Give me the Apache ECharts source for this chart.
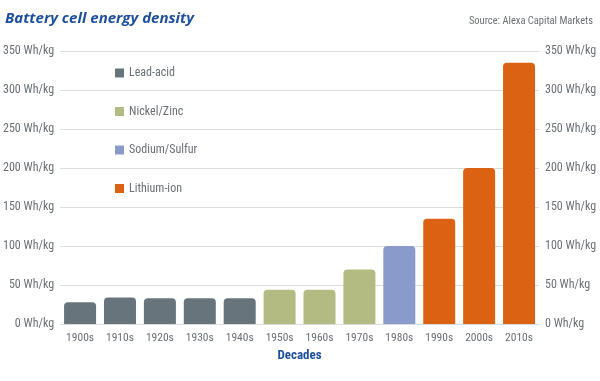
<!DOCTYPE html>
<html><head><meta charset="utf-8">
<script src="https://cdn.jsdelivr.net/npm/echarts@6/dist/echarts.min.js"></script>
<style>html,body{margin:0;padding:0;background:#fff}#c{width:600px;height:381px}</style>
</head><body><div id="c"></div>
<script>
const categories = ['1900s','1910s','1920s','1930s','1940s','1950s','1960s','1970s','1980s','1990s','2000s','2010s'];
const leadAcid    = [28, 34, 33, 33, 33, null, null, null, null, null, null, null];
const nickelZinc  = [null, null, null, null, null, 44, 44, 70, null, null, null, null];
const sodiumSulfur= [null, null, null, null, null, null, null, null, 100, null, null, null];
const lithiumIon  = [null, null, null, null, null, null, null, null, null, 135, 200, 335];
const seriesNames = ['Lead-acid','Nickel/Zinc','Sodium/Sulfur','Lithium-ion'];
const colors = ['#68747b','#b3bb82','#8a9bcb','#dc6213'];
const yTicks = [0,50,100,150,200,250,300,350];

const font = '"Liberation Sans Narrow", "Roboto Condensed", "Open Sans", sans-serif';
const chart = echarts.init(document.getElementById('c'), null, {renderer:'canvas'});
const seriesData = [leadAcid, nickelZinc, sodiumSulfur, lithiumIon];
const yAxisBase = (pos) => ({
  type:'value', position:pos, min:yTicks[0], max:yTicks[yTicks.length-1], interval:50,
  axisLine:{show:false}, axisTick:{show:false},
  splitLine:{show: pos==='left', lineStyle:{color:'#d9dcdf', width:1}},
  axisLabel:{color:'#6b7075', fontFamily:font, fontSize:12, margin:6, formatter: v => v + ' Wh/kg'}
});
chart.setOption({
  animation:false,
  title:[
    {text:'Battery cell energy density', left:0, top:6, textStyle:{color:'#1e4f9e', fontFamily:'"Open Sans", sans-serif', fontStyle:'italic', fontWeight:'bold', fontSize:15}},
    {text:'Source: Alexa Capital Markets', right:2, top:11, textStyle:{color:'#6b7075', fontFamily:font, fontWeight:'normal', fontSize:10.5}}
  ],
  legend:{
    orient:'vertical', left:110, top:62, itemWidth:9, itemHeight:9, itemGap:26.5, icon:'rect',
    textStyle:{color:'#6b7075', fontFamily:font, fontSize:12},
    data: seriesNames
  },
  grid:{left:58, right:61, top:51, bottom:57},
  xAxis:{
    type:'category', data:categories,
    name:'Decades', nameLocation:'middle', nameGap:25,
    nameTextStyle:{color:'#1e4f9e', fontFamily:font, fontWeight:'bold', fontSize:13},
    axisLine:{show:true, lineStyle:{color:'#d9dcdf'}}, axisTick:{show:false},
    axisLabel:{color:'#6b7075', fontFamily:font, fontSize:11.5, margin:8}
  },
  yAxis:[yAxisBase('left'), yAxisBase('right')],
  series: seriesNames.map((n,i)=>({
    name:n, type:'bar', stack:'all', data:seriesData[i], barWidth:32,
    itemStyle:{color:colors[i], borderRadius:[4,4,0,0]}
  }))
});
</script></body></html>
